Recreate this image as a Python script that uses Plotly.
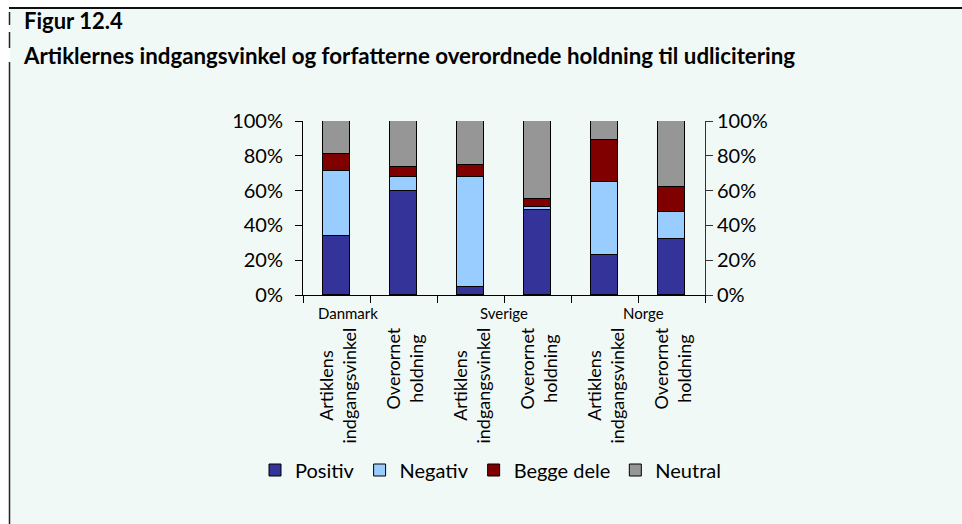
import plotly.graph_objects as go

# ---- data ----
countries = ["Danmark", "Sverige", "Norge"]
bar_labels = ["Artiklens<br>indgangsvinkel", "Overornet<br>holdning"] * 3
series_names = ["Positiv", "Negativ", "Begge dele", "Neutral"]
positiv = [34.1, 59.8, 4.8, 48.9, 22.8, 32.2]
negativ = [37.4, 7.8, 63.0, 1.9, 42.3, 15.3]
begge = [9.3, 6.2, 7.1, 4.2, 24.0, 14.4]
neutral = [19.2, 26.2, 25.1, 45.0, 10.9, 38.1]
y_ticks = [0, 20, 40, 60, 80, 100]
y_ticktext = ["0%", "20%", "40%", "60%", "80%", "100%"]

colors = ["#333399", "#99CCFF", "#800000", "#969696"]
values = [positiv, negativ, begge, neutral]

W, H = 962, 524
L, R, T, B = 303, 705, 121, 295  # plot area pixels


def px(x):
    return (x - L) / (R - L)


def py(y):
    return (B - y) / (B - T)


FONT = "Lato"
xs = list(range(len(positiv)))

fig = go.Figure()
for name, vals, col in zip(series_names, values, colors):
    fig.add_trace(go.Bar(
        x=xs, y=vals, name=name, width=0.39,
        marker=dict(color=col, line=dict(color="#000000", width=1)),
    ))

# invisible helper on the right axis so it is drawn
fig.add_trace(go.Scatter(x=[0], y=[0], yaxis="y2", mode="markers",
                         marker=dict(opacity=0), showlegend=False,
                         hoverinfo="skip"))

mint = "#F1F9F6"
shapes = [
    dict(type="rect", xref="paper", yref="paper", x0=px(10), x1=px(W + 2),
         y0=py(9), y1=py(H + 2), fillcolor=mint, line=dict(width=0), layer="below"),
    dict(type="line", xref="paper", yref="paper", x0=px(9), x1=px(W + 2),
         y0=py(8), y1=py(8), line=dict(color="#111111", width=2)),
]
for y0, y1 in [(12, 25), (32, 48), (62, H + 2)]:
    shapes.append(dict(type="line", xref="paper", yref="paper", x0=px(9.5), x1=px(9.5),
                       y0=py(y0), y1=py(y1), line=dict(color="#222222", width=1.5)))

annotations = [
    dict(text="<b>Figur 12.4</b>", xref="paper", yref="paper", x=px(22), y=py(20),
         xanchor="left", yanchor="middle", showarrow=False,
         font=dict(family=FONT, size=22, color="#000000")),
    dict(text="<b>Artiklernes indgangsvinkel og forfatterne overordnede holdning til udlicitering</b>",
         xref="paper", yref="paper", x=px(21), y=py(56),
         xanchor="left", yanchor="middle", showarrow=False,
         font=dict(family=FONT, size=22.3, color="#000000")),
]
for i, lab in zip(xs, bar_labels):
    annotations.append(dict(
        text=lab, x=i, xref="x", yref="paper", y=py(326), xanchor="center",
        yanchor="top", textangle=-90, showarrow=False, align="center",
        font=dict(family=FONT, size=18, color="#000000")))
group_shift = [-22, 0, 5]
for g, (c, sh) in enumerate(zip(countries, group_shift)):
    annotations.append(dict(
        text=c, x=2 * g + 0.5, xref="x", yref="paper", y=py(313), xshift=sh,
        xanchor="center", yanchor="middle", showarrow=False,
        font=dict(family=FONT, size=15, color="#000000")))

fig.update_layout(
    width=W, height=H,
    margin=dict(l=L, r=W - R, t=T, b=H - B, pad=0),
    paper_bgcolor="#FFFFFF", plot_bgcolor="rgba(0,0,0,0)",
    barmode="stack", bargap=0,
    font=dict(family=FONT, size=19, color="#000000"),
    xaxis=dict(range=[-0.5, 5.5], tickvals=[v - 0.5 for v in range(7)],
               showticklabels=False, ticks="outside", ticklen=7, tickcolor="#000000",
               showline=True, linecolor="#000000", linewidth=1, showgrid=False,
               zeroline=False, fixedrange=True),
    yaxis=dict(range=[0, 100], tickvals=y_ticks, ticktext=y_ticktext,
               ticks="outside", ticklen=7, tickcolor="#000000", showline=True,
               linecolor="#000000", linewidth=1, showgrid=False, zeroline=False,
               ticklabelstandoff=8, tickfont=dict(family=FONT, size=20)),
    yaxis2=dict(range=[0, 100], tickvals=y_ticks, ticktext=y_ticktext,
                overlaying="y", side="right", ticks="outside", ticklen=7,
                tickcolor="#333333", showline=True, linecolor="#333333", linewidth=1,
                showgrid=False, zeroline=False, ticklabelstandoff=0,
                tickfont=dict(family=FONT, size=20)),
    legend=dict(orientation="h", xref="paper", yref="paper",
                x=px(255), y=py(470), xanchor="left",
                yanchor="middle", bgcolor="rgba(0,0,0,0)",
                font=dict(family=FONT, size=20), traceorder="normal",
                itemwidth=30),
    shapes=shapes, annotations=annotations, showlegend=True,
)

fig.write_html("out.html", config={"displayModeBar": False},
               post_script="document.body.style.margin='0';document.body.style.padding='0';")
